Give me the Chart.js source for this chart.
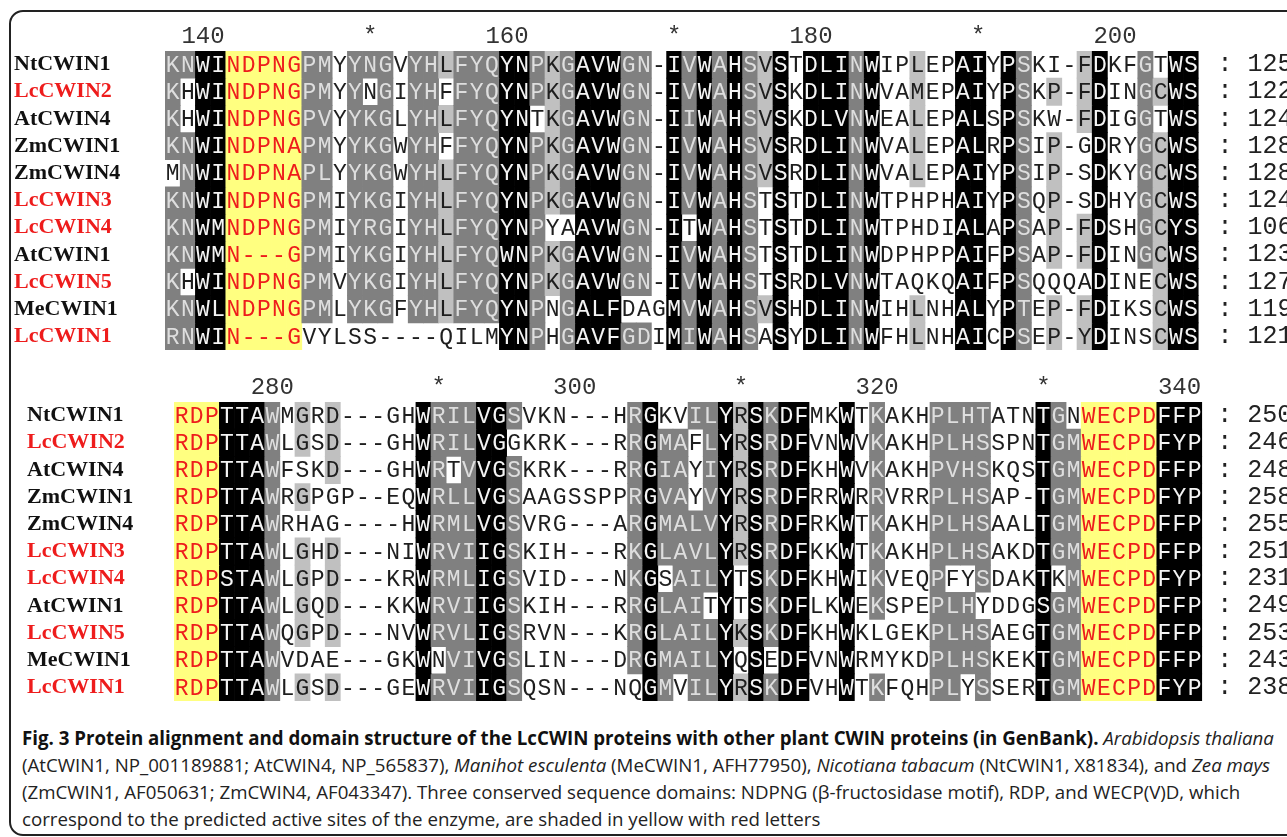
<!DOCTYPE html>
<html>
<head>
<meta charset="utf-8">
<script src="https://cdn.jsdelivr.net/npm/chart.js@4.4.0/dist/chart.umd.min.js"></script>
<style>
  html, body { margin: 0; padding: 0; background: #fff; }
  body { width: 1287px; height: 837px; position: relative; overflow: hidden; }
  .frame { position: absolute; left: 9px; top: 10px; width: 1400px; height: 826px;
           border: 2px solid #222; border-radius: 14px; box-sizing: border-box; }
  .block { position: absolute; left: 0; width: 1287px; height: 360px; }
  #caption { position: absolute; left: 22px; top: 724px; font-family: "Open Sans", sans-serif;
             font-size: 18.7px; line-height: 27px; color: #222; white-space: nowrap; }
  #caption b { color: #111; }
</style>
</head>
<body>
<div class="frame"></div>
<div class="block" style="top:0"><canvas id="block1" width="1287" height="360"></canvas></div>
<div class="block" style="top:350px"><canvas id="block2" width="1287" height="360"></canvas></div>
<div id="caption">
  <b>Fig. 3 Protein alignment and domain structure of the LcCWIN proteins with other plant CWIN proteins (in GenBank).</b> <i>Arabidopsis thaliana</i><br>
  (AtCWIN1, NP_001189881; AtCWIN4, NP_565837), <i>Manihot esculenta</i> (MeCWIN1, AFH77950), <i>Nicotiana tabacum</i> (NtCWIN1, X81834), and <i>Zea mays</i><br>
  (ZmCWIN1, AF050631; ZmCWIN4, AF043347). Three conserved sequence domains: NDPNG (β-fructosidase motif), RDP, and WECP(V)D, which<br>
  correspond to the predicted active sites of the enzyme, are shaded in yellow with red letters
</div>
<script>
// sequence names, same order in both blocks
const rowNames = ['NtCWIN1', 'LcCWIN2', 'AtCWIN4', 'ZmCWIN1', 'ZmCWIN4', 'LcCWIN3',
                  'LcCWIN4', 'AtCWIN1', 'LcCWIN5', 'MeCWIN1', 'LcCWIN1'];

// block 1 (alignment columns, spaces every 10 only for reading)
const seq1 = [
  'KNWINDPNGP MYYNGVYHLF YQYNPKGAVW GN-IVWAHSV STDLINWIPL EPAIYPSKI- FDKFGTWS',
  'KHWINDPNGP MYYNGIYHFF YQYNPKGAVW GN-IVWAHSV SKDLINWVAM EPAIYPSKP- FDINGCWS',
  'KHWINDPNGP VYYKGLYHLF YQYNTKGAVW GN-IIWAHSV SKDLVNWEAL EPALSPSKW- FDIGGTWS',
  'KNWINDPNAP MYYKGWYHFF YQYNPKGAVW GN-IVWAHSV SRDLINWVAL EPALRPSIP- GDRYGCWS',
  'MNWINDPNAP LYYKGWYHLF YQYNPKGAVW GN-IVWAHSV SRDLINWVAL EPAIYPSIP- SDKYGCWS',
  'KNWINDPNGP MIYKGIYHLF YQYNPKGAVW GN-IVWAHST STDLINWTPH PHAIYPSQP- SDHYGCWS',
  'KNWMNDPNGP MIYRGIYHLF YQYNPYAAVW GN-ITWAHST STDLINWTPH DIALAPSAP- FDSHGCYS',
  'KNWMN---GP MIYKGIYHLF YQWNPKGAVW GN-IVWAHST STDLINWDPH PPAIFPSAP- FDINGCWS',
  'KHWINDPNGP MVYKGIYHLF YQYNPKGAVW GN-IVWAHST SRDLVNWTAQ KQAIFPSQQQ ADINECWS',
  'KNWLNDPNGP MLYKGFYHLF YQYNPNGALF DAGMVWAHSV SHDLINWIHL NHALYPTEP- FDIKSCWS',
  'RNWIN---GV YLSS----QI LMYNPHGAVF GDIMIWAHSA SYDLINWFHL NHAICPSEP- YDINSCWS'
];
// conservation level per residue: 0 none, 1 60%, 2 80%, 3 100%, 4 motif
const level1 = [
  '2233444442 2022202212 2233212333 2203232321 3033323001 0033032000 13002033',
  '2033444442 2020202202 2233212333 2203232321 3033323001 0033032010 13002133',
  '2033444442 2022202212 2233012333 2203232321 3033323001 0033032000 13002033',
  '2233444442 2022202202 2233212333 2203232321 3033323001 0033032010 03002133',
  '0233444442 2022202212 2233212333 2203232321 3033323001 0033032010 03002133',
  '2233444442 2022202212 2233212333 2203232320 3033323000 0033032010 03002133',
  '2233444442 2022202212 2233200333 2203032320 3033323000 0033032010 13002133',
  '2233444442 2022202212 2233212333 2203232320 3033323000 0033032010 13002133',
  '2033444442 2022202212 2233212333 2203232320 3033323000 0033032000 03000133',
  '2233444442 2022202212 2233202333 0003232321 3033323001 0033032010 13000133',
  '2233444440 0000000000 0033202333 2203232320 3033323001 0033032010 13000133'
];
const ends1 = [125, 122, 124, 128, 128, 124, 106, 123, 127, 119, 121];
const rulerCols1 = [3, 14, 23, 34, 43, 54, 63];
const rulerText1 = ['140', '*', '160', '*', '180', '*', '200'];

// block 2
const seq2 = [
  'RDPTTAWMGR D---GHWRIL VGSVKN---H RGKVILYRSK DFMKWTKAKH PLHTATNTGN WECPDFFP',
  'RDPTTAWLGS D---GHWRIL VGGKRK---R RGMAFLYRSR DFVNWVKAKH PLHSSPNTGM WECPDFYP',
  'RDPTTAWFSK D---GHWRTV VGSKRK---R RGIAYIYRSR DFKHWVKAKH PVHSKQSTGM WECPDFFP',
  'RDPTTAWRGP GP--EQWRLL VGSAAGSSPP RGVAYVYRSR DFRRWRRVRR PLHSAP-TGM WECPDFYP',
  'RDPTTAWRHA G----HWRML VGSVRG---A RGMALVYRSR DFRKWTKAKH PLHSAALTGM WECPDFFP',
  'RDPTTAWLGH D---NIWRVI IGSKIH---R KGLAVLYRSR DFKKWTKAKH PLHSAKDTGM WECPDFFP',
  'RDPSTAWLGP D---KRWRML IGSVID---N KGSAILYTSK DFKHWIKVEQ PFYSDAKTKM WECPDFYP',
  'RDPTTAWLGQ D---KKWRVI IGSKIH---R RGLAITYTSK DFLKWEKSPE PLHYDDGSGM WECPDFFP',
  'RDPTTAWQGP D---NVWRVL IGSRVN---K RGLAILYKSK DFKHWKLGEK PLHSAEGTGM WECPDFFP',
  'RDPTTAWVDA E---GKWNVI VGSLIN---D RGMAILYQSE DFVNWRMYKD PLHSKEKTGM WECPDFFP',
  'RDPTTAWLGS D---GEWRVI IGSQSN---N QGMVILYRSK DFVHWTKFQH PLYSSERTGM WECPDFYP'
];
const level2 = [
  '4443332010 1000003222 3320000000 2300223132 3300302000 2222000320 44444333',
  '4443332010 1000003222 3300000000 2322023132 3300302000 2222000322 44444333',
  '4443332000 1000003202 3320000000 2322023132 3300302000 2222000322 44444333',
  '4443332010 0000003222 3320000000 2322023132 3300302000 2222000322 44444333',
  '4443332000 0000003222 3320000000 2322223132 3300302000 2222000322 44444333',
  '4443332010 1000003222 3320000000 2322223132 3300302000 2222000322 44444333',
  '4443332010 1000003222 3320000000 2302223032 3300302000 2002000302 44444333',
  '4443332010 1000003222 3320000000 2322203032 3300302000 2220000322 44444333',
  '4443332010 1000003222 3320000000 2322223132 3300300000 2222000322 44444333',
  '4443332000 0000003022 3320000000 2322223030 3300300000 2222000322 44444333',
  '4443332010 1000003222 3320000000 0320223132 3300302000 2202000322 44444333'
];
const ends2 = [250, 246, 248, 258, 255, 251, 231, 249, 253, 243, 238];
const rulerCols2 = [7, 18, 27, 38, 47, 58, 67];
const rulerText2 = ['280', '*', '300', '*', '320', '*', '340'];

const cellFill = { '0': 'rgba(255,255,255,0)', '1': '#c0c0c0', '2': '#808080', '3': '#000000', '4': '#ffff80' };
const letterColor = { '0': '#1e1e1e', '1': '#1e1e1e', '2': '#dedede', '3': '#f4f4f4', '4': '#ee1c1c' };
const monoFont = '"Liberation Mono", "DejaVu Sans Mono", monospace';

// g: labelLeft, areaLeft, colWidth, areaTop, areaBottom (canvas px), endPad
function buildBlock(id, seqs, levels, ends, rulerCols, rulerText, g) {
  const rows = seqs.map(s => s.replace(/ /g, ''));
  const lv = levels.map(s => s.replace(/ /g, ''));
  const nCols = rows[0].length;
  const canvas = document.getElementById(id);
  const colLabels = Array.from({ length: nCols }, (_, i) => i + 1);
  const areaRight = g.areaLeft + nCols * g.colWidth;

  const datasets = rows.map((seq, r) => ({
    data: colLabels.map(() => [r + 0.5, r + 1.5]),
    backgroundColor: lv[r].split('').map(k => cellFill[k]),
    grouped: false,
    barPercentage: 1,
    categoryPercentage: 1,
    borderWidth: 0
  }));

  const letters = {
    id: 'letters',
    afterDatasetsDraw(chart) {
      const { ctx, scales: { x, y } } = chart;
      ctx.save();
      ctx.font = '23px ' + monoFont;
      ctx.textAlign = 'center';
      ctx.textBaseline = 'middle';
      rows.forEach((seq, r) => {
        const py = y.getPixelForValue(r + 1) + 1;
        seq.split('').forEach((ch, c) => {
          ctx.fillStyle = letterColor[lv[r][c]];
          ctx.fillText(ch, x.getPixelForValue(c), py);
        });
      });
      ctx.restore();
    }
  };

  const rowTicks = scale => { scale.ticks = rowNames.map((_, i) => ({ value: i + 1 })); };
  const noPad = s => { s.paddingTop = 0; s.paddingBottom = 0; s.paddingLeft = 0; s.paddingRight = 0; };

  return new Chart(canvas, {
    type: 'bar',
    data: { labels: colLabels, datasets },
    plugins: [letters],
    options: {
      responsive: false,
      animation: false,
      events: [],
      layout: { padding: { left: g.labelLeft, right: 0, top: 0, bottom: canvas.height - g.areaBottom } },
      plugins: { legend: { display: false }, tooltip: { enabled: false } },
      scales: {
        x: {
          type: 'category',
          position: 'top',
          grid: { display: false, drawTicks: false },
          border: { display: false },
          afterFit: s => { s.height = g.areaTop; noPad(s); },
          ticks: {
            autoSkip: false, maxRotation: 0, padding: 0,
            color: '#333', font: { family: monoFont, size: 24 },
            callback: (val, idx) => {
              const k = rulerCols.indexOf(idx + 1);
              return k >= 0 ? rulerText[k] : '';
            }
          }
        },
        y: {
          type: 'linear', position: 'left', reverse: true, min: 0.5, max: 11.5,
          grid: { display: false, drawTicks: false },
          border: { display: false },
          afterBuildTicks: rowTicks,
          afterFit: s => { s.width = g.areaLeft - g.labelLeft; noPad(s); },
          ticks: {
            autoSkip: false,
            crossAlign: 'far',
            font: { family: '"Liberation Serif", "Times New Roman", serif', size: 22, weight: 'bold' },
            color: c => rowNames[c.index].startsWith('Lc') ? '#ee1c1c' : '#111',
            callback: v => rowNames[v - 1]
          }
        },
        yEnd: {
          type: 'linear', position: 'right', reverse: true, min: 0.5, max: 11.5,
          grid: { display: false, drawTicks: false },
          border: { display: false },
          afterBuildTicks: rowTicks,
          afterFit: s => { s.width = canvas.width - areaRight; noPad(s); },
          ticks: {
            autoSkip: false,
            crossAlign: 'near', padding: g.endPad,
            color: '#222', font: { family: monoFont, size: 25 },
            callback: v => ': ' + ends[v - 1]
          }
        }
      }
    }
  });
}

buildBlock('block1', seq1, level1, ends1, rulerCols1, rulerText1,
  { labelLeft: 14, areaLeft: 165, colWidth: 15.2, areaTop: 51, areaBottom: 350, endPad: 19 });
buildBlock('block2', seq2, level2, ends2, rulerCols2, rulerText2,
  { labelLeft: 27, areaLeft: 174, colWidth: 15.12, areaTop: 52, areaBottom: 351, endPad: 15 });
</script>
</body>
</html>
